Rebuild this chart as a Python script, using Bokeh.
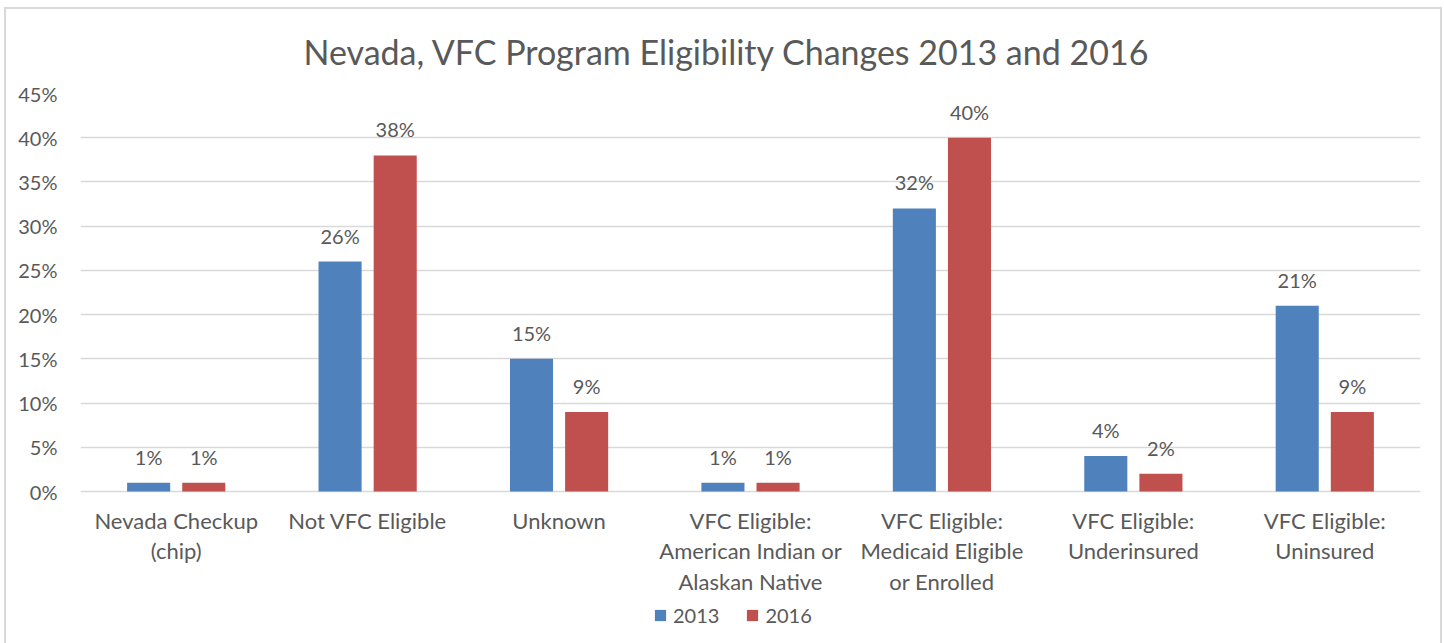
from bokeh.plotting import figure
from bokeh.models import (ColumnDataSource, Range1d, FixedTicker, PrintfTickFormatter,
                          LabelSet, Legend, LegendItem)
from bokeh.core.properties import value
from bokeh.embed import file_html
from bokeh.resources import INLINE

categories = ["Nevada Checkup\n(chip)", "Not VFC Eligible", "Unknown",
              "VFC Eligible:\nAmerican Indian or\nAlaskan Native",
              "VFC Eligible:\nMedicaid Eligible\nor Enrolled",
              "VFC Eligible:\nUnderinsured", "VFC Eligible:\nUninsured"]
v2013 = [1, 26, 15, 1, 32, 4, 21]
v2016 = [1, 38, 9, 1, 40, 2, 9]
y_ticks = [0, 5, 10, 15, 20, 25, 30, 35, 40, 45]

FONT = "Lato"
TXT = "#595959"
BLUE = "#4F81BD"
RED = "#C0504D"
GRID = "#D9D9D9"

n = len(categories)
centers = [i + 0.5 for i in range(n)]
off = 0.144
bw = 0.225

# frame: 45% at top (y=93px), 0% at y=491px, frame extends to bottom of canvas
px_per_unit = (491 - 93) / 45.0
y_min = -(643 - 491) / px_per_unit

s13 = ColumnDataSource(dict(x=[c - off for c in centers], y=v2013,
                            lab=[f"{v}%" for v in v2013]))
s16 = ColumnDataSource(dict(x=[c + off for c in centers], y=v2016,
                            lab=[f"{v}%" for v in v2016]))
scat = ColumnDataSource(dict(x=centers, y=[0] * n, lab=categories))

g = "linear-gradient(#D9D9D9,#D9D9D9)"
bg = (f"{g} 4px 7px / 2px 100% no-repeat, "
      f"{g} 4px 7px / 1438px 2px no-repeat, "
      f"{g} 1440px 7px / 2px 100% no-repeat, #FFFFFF")

p = figure(width=1444, height=643, output_backend="svg", toolbar_location=None,
           x_range=Range1d(0, n), y_range=Range1d(y_min, 45),
           min_border_left=80, min_border_right=24, min_border_top=93,
           min_border_bottom=0, styles={"background": bg})
p.border_fill_alpha = 0

p.title.text = "Nevada, VFC Program Eligibility Changes 2013 and 2016"
p.title.align = "left"
p.title.offset = 223
p.title.text_font = FONT
p.title.text_font_size = "34px"
p.title.text_font_style = "normal"
p.title.text_color = TXT
p.title.standoff = 43

r13 = p.vbar(x="x", top="y", width=bw, source=s13, fill_color=BLUE, line_color=None)
r16 = p.vbar(x="x", top="y", width=bw, source=s16, fill_color=RED, line_color=None)

for src in (s13, s16):
    ls = LabelSet(x="x", y="y", text="lab", source=src, text_align="center",
                  text_baseline="alphabetic", y_offset=18, text_font=value(FONT),
                  text_font_size=value("20px"), text_color=TXT)
    p.add_layout(ls)

# category labels below the baseline
p.text(x="x", y="y", text="lab", source=scat, text_align="center",
       text_baseline="top", y_offset=15, text_font=value(FONT),
       text_font_size=value("22px"), text_color=TXT, text_line_height=1.13)

p.outline_line_color = None
p.xgrid.grid_line_color = None
p.ygrid.grid_line_color = GRID
p.ygrid.grid_line_width = 1.5
p.ygrid.ticker = FixedTicker(ticks=y_ticks)

p.yaxis.ticker = FixedTicker(ticks=y_ticks)
p.yaxis.formatter = PrintfTickFormatter(format="%d%%")
p.yaxis.axis_line_color = None
p.yaxis.major_tick_line_color = None
p.yaxis.minor_tick_line_color = None
p.yaxis.major_label_text_font = FONT
p.yaxis.major_label_text_font_size = "20px"
p.yaxis.major_label_text_color = TXT
p.yaxis.major_label_standoff = 17

p.xaxis.visible = False

legend = Legend(items=[LegendItem(label="2013", renderers=[r13]),
                       LegendItem(label="2016", renderers=[r16])],
                orientation="horizontal", location=(573, 16),
                label_text_font=FONT, label_text_font_size="20px",
                label_text_color=TXT, glyph_width=14, glyph_height=14,
                spacing=26, label_standoff=6, border_line_color=None,
                background_fill_alpha=0, padding=0, margin=0)
p.add_layout(legend)

open("out.html", "w").write(file_html(p, INLINE))
